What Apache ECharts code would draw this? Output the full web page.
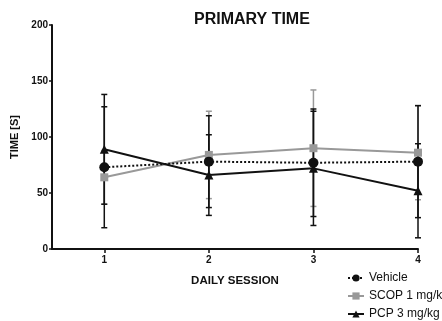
<!DOCTYPE html>
<html><head><meta charset="utf-8">
<script src="https://cdn.jsdelivr.net/npm/echarts@6/dist/echarts.min.js"></script>
<style>html,body{margin:0;padding:0;background:#fff}#c{width:442px;height:321px}</style>
</head><body><div id="c"></div>
<script>
var sessions = [1, 2, 3, 4];
var vehicleMean = [73, 78, 77, 78];
var vehicleErr  = [54, 41, 48, 50];
var scopMean = [64, 84, 90, 86];
var scopErr  = [24, 39, 52, 42];
var pcpMean = [89, 66, 72, 52];
var pcpErr  = [49, 36, 51, 42];
var yTicks = [0, 50, 100, 150, 200];

var FONT = '"Liberation Sans", Arial, sans-serif';
function pts(m){ return sessions.map(function(s,i){ return [s, m[i]]; }); }
function errData(m,e){ return sessions.map(function(s,i){ return [s, m[i]-e[i], m[i]+e[i]]; }); }
function errSeries(m,e,color){
  return {
    type:'custom', silent:true, z:1,
    data: errData(m,e),
    encode:{x:0,y:[1,2]},
    renderItem:function(params, api){
      var x = api.value(0), lo = api.coord([x, api.value(1)]), hi = api.coord([x, api.value(2)]);
      var w = 3;
      var st = {stroke:color, lineWidth:1.5};
      return {type:'group', children:[
        {type:'line', shape:{x1:lo[0],y1:lo[1],x2:hi[0],y2:hi[1]}, style:st},
        {type:'line', shape:{x1:lo[0]-w,y1:lo[1],x2:lo[0]+w,y2:lo[1]}, style:st},
        {type:'line', shape:{x1:hi[0]-w,y1:hi[1],x2:hi[0]+w,y2:hi[1]}, style:st}
      ]};
    }
  };
}
var chart = echarts.init(document.getElementById('c'));
chart.setOption({
  animation:false,
  backgroundColor:'#fff',
  title:{text:'PRIMARY TIME', left:189, top:7, textStyle:{fontFamily:FONT, fontWeight:'bold', fontSize:16, color:'#111'}},
  grid:{left:52, right:24, top:25, bottom:72},
  legend:{
    orient:'vertical', left:347, top:272, padding:0, itemGap:6, itemWidth:16, itemHeight:9,
    textStyle:{fontFamily:FONT, fontSize:12, color:'#111'},
    data:['Vehicle','SCOP 1 mg/kg','PCP 3 mg/kg']
  },
  xAxis:{
    type:'value', min:0.5, max:4,
    name:'DAILY SESSION', nameLocation:'middle', nameGap:26,
    nameTextStyle:{fontFamily:FONT, fontWeight:'bold', fontSize:11.5, color:'#111'},
    axisLine:{lineStyle:{color:'#111', width:2}},
    axisTick:{show:true, length:4, lineStyle:{color:'#111', width:1.5}, customValues:sessions},
    axisLabel:{fontFamily:FONT, fontWeight:'bold', fontSize:10, color:'#111', margin:6, customValues:sessions},
    splitLine:{show:false}
  },
  yAxis:{
    type:'value', min:0, max:200, interval:50,
    name:'TIME [S]', nameLocation:'middle', nameGap:29, nameRotate:90,
    nameTextStyle:{fontFamily:FONT, fontWeight:'bold', fontSize:11, color:'#111'},
    axisLine:{show:true, lineStyle:{color:'#111', width:2}},
    axisTick:{show:true, length:3, lineStyle:{color:'#111', width:1.5}},
    axisLabel:{fontFamily:FONT, fontWeight:'bold', fontSize:10, color:'#111', margin:4,
      formatter:function(v){ return yTicks.indexOf(v)>=0 ? String(v) : ''; }},
    splitLine:{show:false}
  },
  series:[
    errSeries(scopMean, scopErr, '#999'),
    errSeries(pcpMean, pcpErr, '#111'),
    errSeries(vehicleMean, vehicleErr, '#111'),
    {name:'SCOP 1 mg/kg', type:'line', data:pts(scopMean), symbol:'rect', symbolSize:8, z:3,
      lineStyle:{color:'#999', width:2}, itemStyle:{color:'#999'}},
    {name:'PCP 3 mg/kg', type:'line', data:pts(pcpMean), symbol:'triangle', symbolSize:9, z:4,
      lineStyle:{color:'#111', width:2}, itemStyle:{color:'#111'}},
    {name:'Vehicle', type:'line', data:pts(vehicleMean), symbol:'circle', symbolSize:10, z:5,
      lineStyle:{color:'#111', width:2, type:[2,2]}, itemStyle:{color:'#111'}}
  ]
});
</script></body></html>
